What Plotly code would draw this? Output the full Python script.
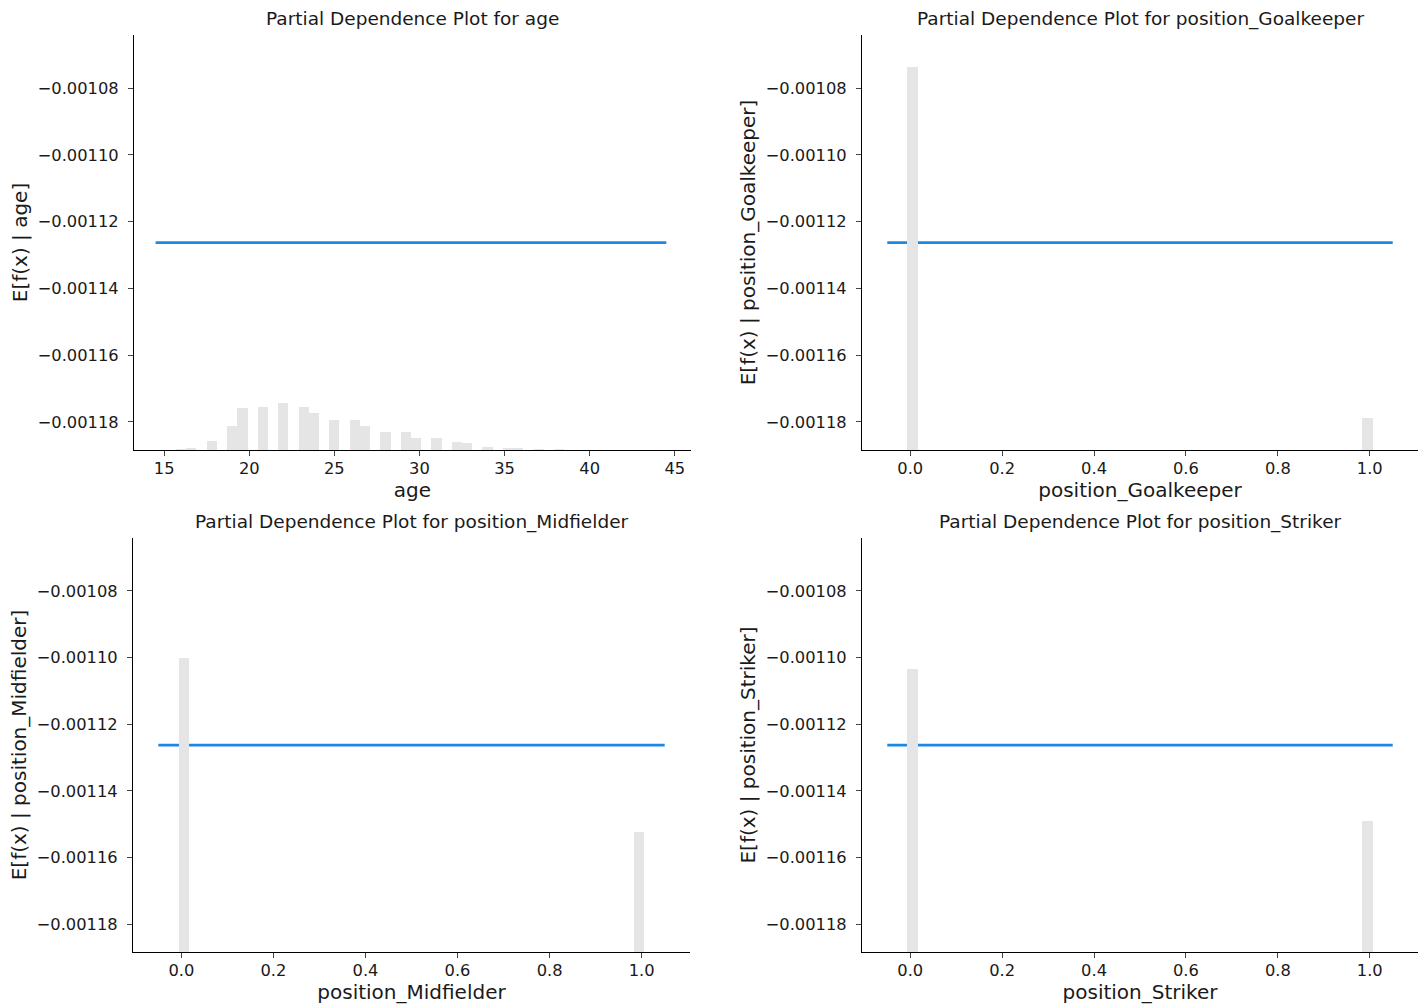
import plotly.graph_objects as go

# ---------------- data ----------------
features = ["age", "position_Goalkeeper", "position_Midfielder", "position_Striker"]
titles = ["Partial Dependence Plot for " + f for f in features]
ylabels = ["E[f(x) | " + f + "]" for f in features]

mean_prediction = -0.0011263          # flat partial dependence value
n_samples = 1023

# x ranges used for the PDP line and the histogram (50 bins)
age_range = [14.5, 44.5]
binary_range = [-0.05, 1.05]
n_bins = 50

# age histogram: occupied bin indices and counts
age_bin_index = [2, 3, 5, 7, 8, 10, 12, 14, 15, 17, 19, 20, 22, 24, 25, 27, 29, 30, 32, 34, 35, 37, 39]
age_bin_count = [2, 5, 22, 58, 104, 107, 115, 107, 91, 74, 74, 58, 44, 44, 30, 30, 19, 17, 8, 5, 5, 2, 2]

# binary features: counts at value 0 and value 1
binary_values = [0, 1]
goalkeeper_counts = [944, 79]
midfielder_counts = [727, 296]
striker_counts = [700, 323]

y_ticks = [-0.00108, -0.00110, -0.00112, -0.00114, -0.00116, -0.00118]
y_tick_text = ["\u22120.00108", "\u22120.00110", "\u22120.00112", "\u22120.00114", "\u22120.00116", "\u22120.00118"]
y_range = [-0.0011884, -0.0010641]

age_ticks = [15, 20, 25, 30, 35, 40, 45]
bin_ticks = [0.0, 0.2, 0.4, 0.6, 0.8, 1.0]
bin_tick_text = ["0.0", "0.2", "0.4", "0.6", "0.8", "1.0"]

# ---------------- styling ----------------
W, H = 1426, 1007
LINE_BLUE = "#1E88E5"
HIST_GREY = "#e5e5e5"
FONT = "DejaVu Sans"
TXT = "#1a1a1a"

# panel pixel boxes: (left, right, top, bottom)
boxes = [(134, 691, 35, 450), (862, 1418, 35, 450), (133, 690, 538, 952), (862, 1418, 538, 952)]

def xdom(b):
    return [b[0] / W, b[1] / W]

def ydom(b):
    return [1 - b[3] / H, 1 - b[2] / H]

fig = go.Figure()

def bins_from(rng, idx_list):
    w = (rng[1] - rng[0]) / n_bins
    centers = [rng[0] + (k + 0.5) * w for k in idx_list]
    return centers, w

def bin_index_of(rng, v):
    w = (rng[1] - rng[0]) / n_bins
    return int((v - rng[0]) // w)

panels = []
c, w = bins_from(age_range, age_bin_index)
panels.append((age_range, c, w, age_bin_count))
for counts in (goalkeeper_counts, midfielder_counts, striker_counts):
    idx = [bin_index_of(binary_range, v) for v in binary_values]
    c, w = bins_from(binary_range, idx)
    panels.append((binary_range, c, w, counts))

for i, (rng, centers, width, counts) in enumerate(panels):
    n = i + 1
    xa = "x" if n == 1 else f"x{n}"
    ya_hist = f"y{2*n}"
    ya_main = "y" if n == 1 else f"y{2*n-1}"
    fig.add_trace(go.Bar(x=centers, y=counts, width=width, marker=dict(color=HIST_GREY, line=dict(width=0)),
                         xaxis=xa, yaxis=ya_hist, showlegend=False, hoverinfo="skip"))
    fig.add_trace(go.Scatter(x=rng, y=[mean_prediction, mean_prediction], mode="lines",
                             line=dict(color=LINE_BLUE, width=2.8), xaxis=xa, yaxis=ya_main, showlegend=False))

layout = dict(width=W, height=H, margin=dict(l=0, r=0, t=0, b=0), paper_bgcolor="white",
              plot_bgcolor="rgba(0,0,0,0)", font=dict(family=FONT, color=TXT), bargap=0, showlegend=False)

annotations = []
for i, b in enumerate(boxes):
    n = i + 1
    xkey = "xaxis" if n == 1 else f"xaxis{n}"
    ykey_main = "yaxis" if n == 1 else f"yaxis{2*n-1}"
    ykey_hist = f"yaxis{2*n}"
    xname = "x" if n == 1 else f"x{n}"
    ymain_name = "y" if n == 1 else f"y{2*n-1}"
    if n == 1:
        xr = [13.23, 45.95]
        tv, tt = age_ticks, [str(t) for t in age_ticks]
    else:
        xr = [-0.105, 1.105]
        tv, tt = bin_ticks, bin_tick_text
    layout[xkey] = dict(domain=xdom(b), range=xr, anchor=ymain_name, showgrid=False, zeroline=False,
                        showline=True, linecolor="#000", linewidth=1.2, ticks="outside", ticklen=5,
                        tickwidth=1, tickcolor="#444", tickvals=tv, ticktext=tt,
                        tickfont=dict(size=16.3, color=TXT), ticklabelstandoff=-2,
                        title=dict(text=features[i], font=dict(size=20, color=TXT), standoff=1))
    layout[ykey_main] = dict(domain=ydom(b), range=y_range, anchor=xname, showgrid=False, zeroline=False,
                             showline=True, linecolor="#000", linewidth=1.2, ticks="outside", ticklen=5,
                             tickwidth=1, tickcolor="#444", tickvals=y_ticks, ticktext=y_tick_text,
                             tickfont=dict(size=16.3, color=TXT), ticklabelstandoff=6,
                             title=dict(text=ylabels[i], font=dict(size=20, color=TXT), standoff=4))
    layout[ykey_hist] = dict(domain=ydom(b), range=[0, n_samples], anchor=xname, overlaying=ymain_name,
                             side="right", visible=False, showgrid=False, zeroline=False)
    annotations.append(dict(text=titles[i], x=(b[0] + b[1]) / 2 / W, y=1 - (b[2] - 16) / H,
                            xref="paper", yref="paper", showarrow=False, xanchor="center", yanchor="middle",
                            font=dict(size=18.5, color=TXT)))
layout["annotations"] = annotations
fig.update_layout(**layout)

fig.write_html("out.html")
